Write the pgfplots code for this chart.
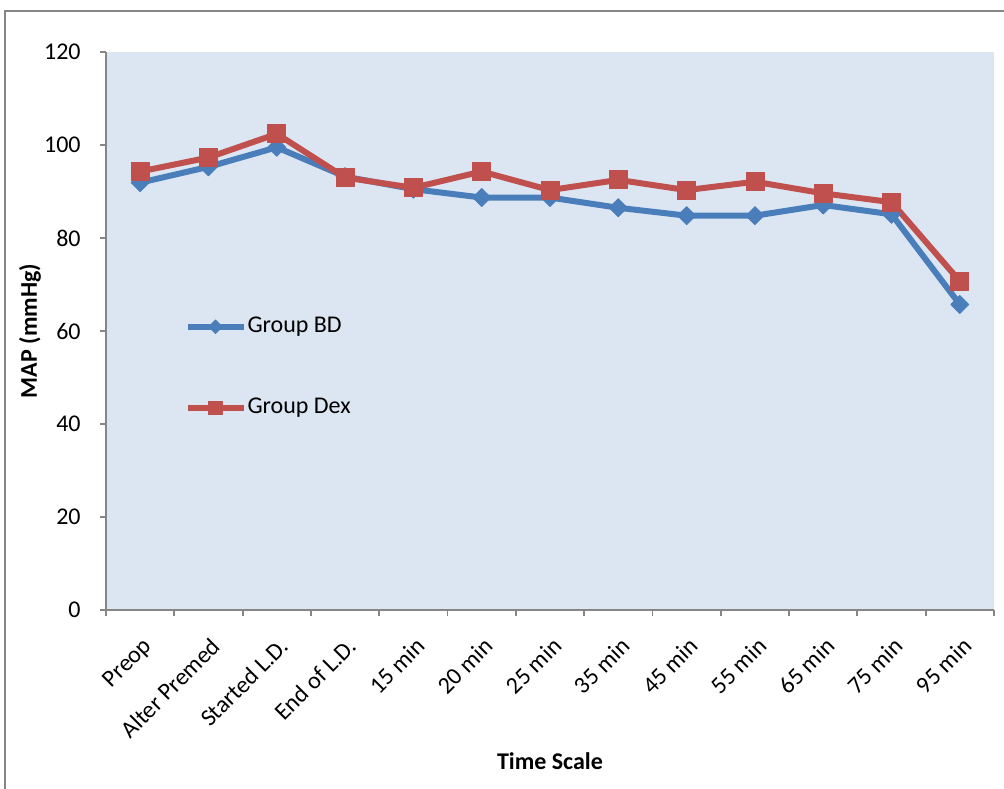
\documentclass[border=0pt]{standalone}
\usepackage{pgfplots}
\pgfplotsset{compat=1.18}
\usepackage{fontspec}
\setmainfont{Carlito}
\definecolor{bdblue}{HTML}{4A7EBB}
\definecolor{dexred}{HTML}{C0504D}
\definecolor{plotbg}{HTML}{DCE6F2}
\definecolor{axgray}{HTML}{868686}
\begin{document}
\fontsize{12}{14}\selectfont
\begin{tikzpicture}
\begin{axis}[
  at={(0,0)}, anchor=south west,
  scale only axis, width=444pt, height=279pt,
  xmin=-0.5, xmax=12.5, ymin=0, ymax=120,
  axis lines*=left,
  axis line style={axgray, line width=0.9pt},
  axis background/.style={fill=plotbg},
  ytick={0,20,...,120},
  xtick={0,...,12},
  xticklabels={Preop,Alter Premed,Started L.D.,End of L.D.,15 min,20 min,25 min,35 min,45 min,55 min,65 min,75 min,95 min},
  minor xtick={-0.5,0.5,...,12.5},
  tick align=outside,
  major x tick style={draw=none},
  minor x tick style={axgray, line width=0.9pt},
  major y tick style={axgray, line width=0.9pt},
  major tick length=3pt, minor tick length=3pt,
  x tick label style={rotate=45, anchor=north east, inner sep=1pt, xshift=-5.5pt, yshift=-6.5pt},
  y tick label style={inner sep=1pt, xshift=-8.5pt},
  /pgf/number format/assume math mode=true,
  ticklabel style={font=\fontsize{12}{14}\selectfont},
  xlabel={\textbf{Time Scale}},
  ylabel={\textbf{MAP (mmHg)}},
  label style={font=\fontsize{12}{14}\selectfont},
  xlabel style={at={(axis description cs:0.5,0)}, anchor=center, yshift=-75.5pt},
  ylabel style={at={(axis description cs:-0.0856,0.5)}, anchor=center},
  legend style={draw=none, fill=none, at={(0.088,0.435)}, anchor=west,
    font=\fontsize{12}{14}\selectfont, row sep=29pt, inner sep=0pt,
    nodes={inner xsep=0.5pt, inner ysep=1pt},
    /tikz/every even column/.append style={column sep=0pt}},
  legend cell align=left,
  legend image code/.code={\draw[mark repeat=2,mark phase=2,#1,every mark/.append style={scale=0.75}] plot coordinates {(0pt,0pt) (14pt,0pt) (28pt,0pt)};},
  clip=false,
]
\addplot[color=bdblue, line width=3pt, line join=round, mark=square*, mark size=3.2pt, mark options={solid, rotate=45, fill=bdblue, draw=bdblue, line width=0.4pt}]
coordinates {(0,91.9) (1,95.3) (2,99.5) (3,93.2) (4,90.5) (5,88.7) (6,88.7) (7,86.5) (8,84.8) (9,84.8) (10,87.1) (11,85.1) (12,65.7)};
\addlegendentry{Group BD}
\addplot[color=dexred, line width=3pt, line join=round, mark=square*, mark size=4.5pt, mark options={solid, fill=dexred, draw=dexred, line width=0.4pt}]
coordinates {(0,94.3) (1,97.3) (2,102.4) (3,93.0) (4,90.8) (5,94.3) (6,90.3) (7,92.5) (8,90.3) (9,92.1) (10,89.6) (11,87.7) (12,70.7)};
\addlegendentry{Group Dex}
\end{axis}
\draw[axgray, line width=0.9pt] (-50.5pt,-100pt) -- (-50.5pt,299.5pt) -- (460pt,299.5pt);
\pgfresetboundingbox
\useasboundingbox (-53pt,-89pt) rectangle (449pt,305pt);
\end{tikzpicture}
\end{document}
